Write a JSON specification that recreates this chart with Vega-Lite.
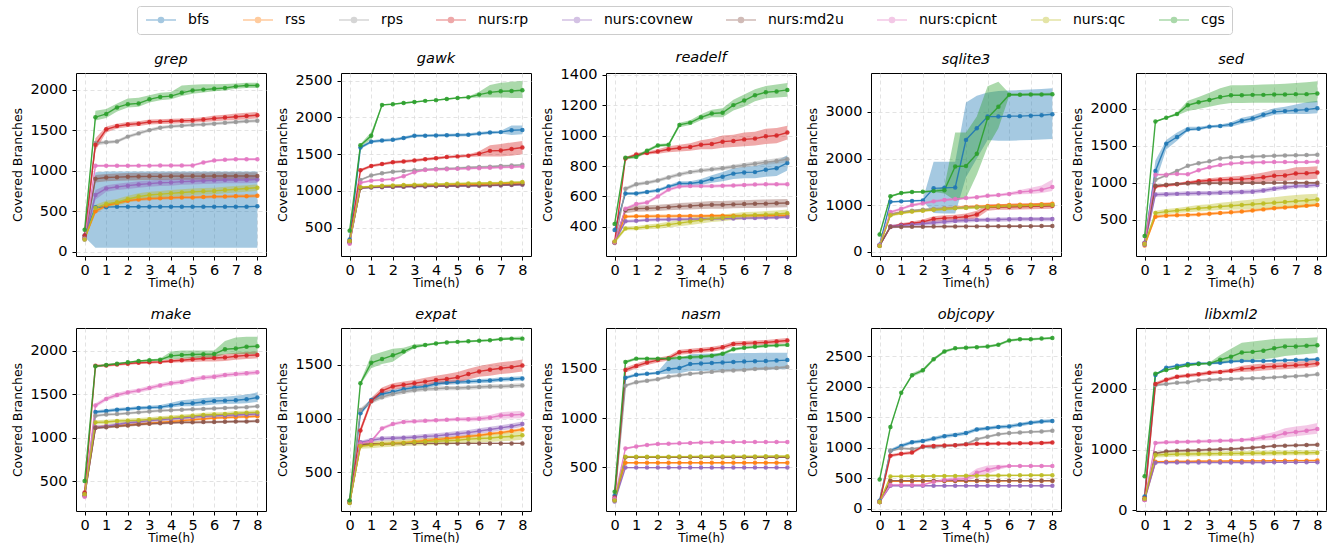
{
"$schema":"https://vega.github.io/schema/vega-lite/v6.json",
"padding":{"left":10,"top":5,"right":5,"bottom":5},
"data":{"values":[
{"p":"grep","s":"bfs","t":[0,0.5,1,1.5,2,2.5,3,3.5,4,4.5,5,5.5,6,6.5,7,7.5,8],"y":[200,550,550,555,555,555,555,555,555,555,555,555,555,555,555,555,560],"lo":[180,50,48,48,48,48,48,48,48,48,48,48,48,48,48,48,48],"hi":[220,980,990,990,990,990,990,990,990,990,990,990,990,990,990,990,990]},
{"p":"grep","s":"rss","t":[0,0.5,1,1.5,2,2.5,3,3.5,4,4.5,5,5.5,6,6.5,7,7.5,8],"y":[160,500,570,600,630,645,655,660,665,670,670,675,680,680,685,685,690],"lo":[145,470,550,580,610,625,635,640,645,650,650,655,660,660,665,665,670],"hi":[175,530,590,620,650,665,675,680,685,690,690,695,700,700,705,705,710]},
{"p":"grep","s":"rps","t":[0,0.5,1,1.5,2,2.5,3,3.5,4,4.5,5,5.5,6,6.5,7,7.5,8],"y":[180,1340,1350,1360,1420,1460,1500,1530,1545,1555,1565,1570,1580,1590,1600,1610,1615],"lo":[165,1310,1330,1340,1400,1440,1480,1510,1525,1535,1545,1550,1560,1570,1580,1590,1595],"hi":[195,1370,1370,1380,1440,1480,1520,1550,1565,1575,1585,1590,1600,1610,1620,1630,1635]},
{"p":"grep","s":"nurs:rp","t":[0,0.5,1,1.5,2,2.5,3,3.5,4,4.5,5,5.5,6,6.5,7,7.5,8],"y":[200,1320,1510,1550,1570,1580,1600,1605,1610,1615,1620,1630,1645,1655,1665,1675,1685],"lo":[185,1250,1470,1520,1540,1550,1570,1575,1580,1585,1590,1600,1610,1620,1625,1635,1645],"hi":[215,1400,1545,1580,1600,1610,1630,1635,1640,1645,1650,1660,1680,1690,1705,1715,1725]},
{"p":"grep","s":"nurs:covnew","t":[0,0.5,1,1.5,2,2.5,3,3.5,4,4.5,5,5.5,6,6.5,7,7.5,8],"y":[150,700,780,800,815,830,840,850,855,865,870,875,880,885,885,885,890],"lo":[135,640,740,760,775,790,800,810,815,825,830,835,840,845,845,845,850],"hi":[165,760,820,840,855,870,880,890,895,905,910,915,920,925,925,925,930]},
{"p":"grep","s":"nurs:md2u","t":[0,0.5,1,1.5,2,2.5,3,3.5,4,4.5,5,5.5,6,6.5,7,7.5,8],"y":[170,900,915,920,925,928,930,930,932,932,933,933,934,934,935,935,935],"lo":[155,855,870,875,880,883,885,885,887,887,888,888,889,889,890,890,890],"hi":[185,945,960,965,970,973,975,975,977,977,978,978,979,979,980,980,980]},
{"p":"grep","s":"nurs:cpicnt","t":[0,0.5,1,1.5,2,2.5,3,3.5,4,4.5,5,5.5,6,6.5,7,7.5,8],"y":[160,1060,1060,1060,1060,1062,1062,1063,1063,1064,1065,1100,1125,1135,1140,1140,1140],"lo":[145,1045,1045,1045,1045,1047,1047,1048,1048,1049,1050,1085,1110,1120,1125,1125,1125],"hi":[175,1075,1075,1075,1075,1077,1077,1078,1078,1079,1080,1115,1140,1150,1155,1155,1155]},
{"p":"grep","s":"nurs:qc","t":[0,0.5,1,1.5,2,2.5,3,3.5,4,4.5,5,5.5,6,6.5,7,7.5,8],"y":[150,540,590,610,650,680,700,710,720,730,740,745,750,760,770,780,790],"lo":[135,500,550,570,610,640,660,670,680,690,700,705,710,720,730,740,750],"hi":[165,580,630,650,690,720,740,750,760,770,780,785,790,800,810,820,830]},
{"p":"grep","s":"cgs","t":[0,0.5,1,1.5,2,2.5,3,3.5,4,4.5,5,5.5,6,6.5,7,7.5,8],"y":[270,1660,1700,1780,1820,1830,1880,1910,1920,1960,1990,2000,2010,2020,2040,2050,2050],"lo":[255,1620,1650,1730,1780,1790,1840,1870,1880,1920,1950,1965,1980,1990,2010,2020,2020],"hi":[285,1740,1760,1830,1890,1900,1930,1960,1970,2050,2060,2065,2065,2070,2075,2085,2085]},
{"p":"gawk","s":"bfs","t":[0,0.5,1,1.5,2,2.5,3,3.5,4,4.5,5,5.5,6,6.5,7,7.5,8],"y":[340,1590,1670,1685,1695,1720,1750,1752,1755,1757,1760,1765,1780,1795,1800,1825,1830],"lo":[320,1570,1650,1665,1675,1700,1730,1732,1735,1737,1740,1745,1760,1775,1780,1760,1770],"hi":[360,1610,1690,1705,1715,1740,1770,1772,1775,1777,1780,1785,1800,1815,1820,1890,1890]},
{"p":"gawk","s":"rss","t":[0,0.5,1,1.5,2,2.5,3,3.5,4,4.5,5,5.5,6,6.5,7,7.5,8],"y":[310,1045,1055,1060,1065,1070,1072,1075,1078,1080,1085,1088,1090,1095,1100,1105,1110],"lo":[295,1033,1043,1048,1053,1058,1060,1063,1066,1068,1073,1076,1078,1083,1088,1093,1098],"hi":[325,1057,1067,1072,1077,1082,1084,1087,1090,1092,1097,1100,1102,1107,1112,1117,1122]},
{"p":"gawk","s":"rps","t":[0,0.5,1,1.5,2,2.5,3,3.5,4,4.5,5,5.5,6,6.5,7,7.5,8],"y":[300,1150,1210,1240,1260,1270,1280,1290,1300,1305,1310,1320,1325,1330,1340,1345,1355],"lo":[285,1135,1195,1225,1245,1255,1265,1275,1285,1290,1295,1305,1310,1315,1325,1330,1340],"hi":[315,1165,1225,1255,1275,1285,1295,1305,1315,1320,1325,1335,1340,1345,1355,1360,1370]},
{"p":"gawk","s":"nurs:rp","t":[0,0.5,1,1.5,2,2.5,3,3.5,4,4.5,5,5.5,6,6.5,7,7.5,8],"y":[320,1280,1340,1365,1390,1400,1415,1430,1445,1460,1470,1480,1505,1545,1550,1570,1590],"lo":[300,1260,1320,1345,1370,1380,1395,1410,1425,1440,1450,1460,1470,1470,1470,1480,1500],"hi":[340,1300,1360,1385,1410,1420,1435,1450,1465,1480,1490,1500,1540,1620,1640,1660,1680]},
{"p":"gawk","s":"nurs:covnew","t":[0,0.5,1,1.5,2,2.5,3,3.5,4,4.5,5,5.5,6,6.5,7,7.5,8],"y":[300,1040,1045,1050,1052,1055,1058,1060,1062,1064,1066,1068,1070,1072,1075,1080,1085],"lo":[290,1030,1035,1040,1042,1045,1048,1050,1052,1054,1056,1058,1060,1062,1065,1070,1075],"hi":[310,1050,1055,1060,1062,1065,1068,1070,1072,1074,1076,1078,1080,1082,1085,1090,1095]},
{"p":"gawk","s":"nurs:md2u","t":[0,0.5,1,1.5,2,2.5,3,3.5,4,4.5,5,5.5,6,6.5,7,7.5,8],"y":[300,1040,1050,1055,1058,1060,1062,1064,1066,1068,1070,1072,1074,1076,1080,1085,1090],"lo":[290,1030,1040,1045,1048,1050,1052,1054,1056,1058,1060,1062,1064,1066,1070,1075,1080],"hi":[310,1050,1060,1065,1068,1070,1072,1074,1076,1078,1080,1082,1084,1086,1090,1095,1100]},
{"p":"gawk","s":"nurs:cpicnt","t":[0,0.5,1,1.5,2,2.5,3,3.5,4,4.5,5,5.5,6,6.5,7,7.5,8],"y":[280,1110,1140,1150,1160,1200,1255,1285,1290,1295,1300,1305,1310,1315,1320,1325,1330],"lo":[245,1095,1125,1135,1145,1185,1240,1270,1275,1280,1285,1290,1295,1300,1305,1310,1315],"hi":[315,1125,1155,1165,1175,1215,1270,1300,1305,1310,1315,1320,1325,1330,1335,1340,1345]},
{"p":"gawk","s":"nurs:qc","t":[0,0.5,1,1.5,2,2.5,3,3.5,4,4.5,5,5.5,6,6.5,7,7.5,8],"y":[320,1050,1060,1070,1075,1080,1085,1088,1090,1095,1100,1102,1105,1108,1110,1115,1120],"lo":[305,1035,1045,1055,1060,1065,1070,1073,1075,1080,1085,1087,1090,1093,1095,1100,1105],"hi":[335,1065,1075,1085,1090,1095,1100,1103,1105,1110,1115,1117,1120,1123,1125,1130,1135]},
{"p":"gawk","s":"cgs","t":[0,0.5,1,1.5,2,2.5,3,3.5,4,4.5,5,5.5,6,6.5,7,7.5,8],"y":[460,1620,1750,2170,2180,2195,2210,2225,2235,2250,2265,2275,2310,2340,2355,2360,2370],"lo":[440,1600,1700,2160,2170,2185,2200,2215,2225,2240,2255,2265,2270,2270,2270,2265,2265],"hi":[480,1640,1800,2180,2190,2205,2220,2235,2245,2260,2275,2285,2350,2440,2470,2485,2495]},
{"p":"readelf","s":"bfs","t":[0,0.5,1,1.5,2,2.5,3,3.5,4,4.5,5,5.5,6,6.5,7,7.5,8],"y":[380,620,620,630,640,665,685,685,695,715,730,750,758,760,775,785,820],"lo":[370,610,610,620,630,655,670,670,675,690,700,715,720,720,730,735,770],"hi":[390,630,630,640,650,675,700,700,715,740,760,785,795,800,820,835,870]},
{"p":"readelf","s":"rss","t":[0,0.5,1,1.5,2,2.5,3,3.5,4,4.5,5,5.5,6,6.5,7,7.5,8],"y":[300,468,470,470,471,471,472,472,472,473,473,473,474,474,474,475,475],"lo":[290,458,460,460,461,461,462,462,462,463,463,463,464,464,464,465,465],"hi":[310,478,480,480,481,481,482,482,482,483,483,483,484,484,484,485,485]},
{"p":"readelf","s":"rps","t":[0,0.5,1,1.5,2,2.5,3,3.5,4,4.5,5,5.5,6,6.5,7,7.5,8],"y":[295,650,680,690,705,725,745,760,770,778,785,795,805,815,825,833,845],"lo":[280,638,668,678,693,713,733,748,758,765,772,782,790,800,808,815,825],"hi":[310,662,692,702,717,737,757,772,782,791,798,808,820,830,842,851,865]},
{"p":"readelf","s":"nurs:rp","t":[0,0.5,1,1.5,2,2.5,3,3.5,4,4.5,5,5.5,6,6.5,7,7.5,8],"y":[300,850,875,885,895,910,918,925,940,945,960,965,975,980,995,1000,1020],"lo":[290,840,865,875,880,890,895,900,910,910,920,925,930,935,945,950,975],"hi":[310,860,885,895,910,930,940,950,970,980,1000,1005,1020,1025,1045,1050,1065]},
{"p":"readelf","s":"nurs:covnew","t":[0,0.5,1,1.5,2,2.5,3,3.5,4,4.5,5,5.5,6,6.5,7,7.5,8],"y":[300,437,440,445,448,449,450,451,452,453,455,456,458,459,460,462,465],"lo":[290,427,430,435,438,439,440,441,442,443,445,446,448,449,450,452,455],"hi":[310,447,450,455,458,459,460,461,462,463,465,466,468,469,470,472,475]},
{"p":"readelf","s":"nurs:md2u","t":[0,0.5,1,1.5,2,2.5,3,3.5,4,4.5,5,5.5,6,6.5,7,7.5,8],"y":[300,510,520,522,525,530,535,538,542,545,545,548,550,552,553,555,557],"lo":[290,490,500,502,505,510,513,515,518,520,520,522,524,525,526,528,530],"hi":[310,530,540,542,545,550,557,561,566,570,570,574,576,579,580,582,584]},
{"p":"readelf","s":"nurs:cpicnt","t":[0,0.5,1,1.5,2,2.5,3,3.5,4,4.5,5,5.5,6,6.5,7,7.5,8],"y":[300,520,550,560,600,645,665,668,668,668,670,672,675,678,680,680,680],"lo":[290,510,540,550,588,635,655,658,658,658,660,662,665,668,670,670,670],"hi":[310,530,560,570,612,655,675,678,678,678,680,682,685,688,690,690,690]},
{"p":"readelf","s":"nurs:qc","t":[0,0.5,1,1.5,2,2.5,3,3.5,4,4.5,5,5.5,6,6.5,7,7.5,8],"y":[305,390,392,400,405,415,425,435,445,455,460,468,475,478,482,485,490],"lo":[290,378,378,384,388,396,404,412,422,432,438,446,452,456,460,462,466],"hi":[320,402,406,416,422,434,446,458,468,478,482,490,498,500,504,508,514]},
{"p":"readelf","s":"cgs","t":[0,0.5,1,1.5,2,2.5,3,3.5,4,4.5,5,5.5,6,6.5,7,7.5,8],"y":[420,855,860,900,935,940,1070,1085,1120,1145,1150,1200,1230,1265,1285,1290,1300],"lo":[410,845,850,890,925,930,1055,1070,1100,1120,1120,1165,1190,1225,1245,1250,1255],"hi":[430,865,870,910,945,950,1085,1100,1140,1170,1180,1235,1270,1305,1325,1335,1345]},
{"p":"sqlite3","s":"bfs","t":[0,0.5,1,1.5,2,2.5,3,3.5,4,4.5,5,5.5,6,6.5,7,7.5,8],"y":[150,1070,1080,1090,1100,1360,1370,1380,2400,2650,2900,2900,2910,2910,2920,2930,2950],"lo":[130,1050,1060,1070,1080,830,820,820,1600,2000,2400,2380,2380,2390,2400,2410,2420],"hi":[170,1090,1100,1110,1120,1930,1930,1930,3200,3350,3420,3450,3460,3470,3480,3490,3510]},
{"p":"sqlite3","s":"rss","t":[0,0.5,1,1.5,2,2.5,3,3.5,4,4.5,5,5.5,6,6.5,7,7.5,8],"y":[130,800,840,870,890,910,930,945,960,970,980,990,1000,1005,1010,1020,1030],"lo":[110,770,810,840,860,880,900,915,930,940,950,960,970,975,980,990,1000],"hi":[150,830,870,900,920,940,960,975,990,1000,1010,1020,1030,1035,1040,1050,1060]},
{"p":"sqlite3","s":"rps","t":[0,0.5,1,1.5,2,2.5,3,3.5,4,4.5,5,5.5,6,6.5,7,7.5,8],"y":[140,800,850,880,900,915,930,940,950,955,960,965,970,975,980,985,990],"lo":[120,775,825,855,875,890,905,915,925,930,935,940,945,950,955,960,965],"hi":[160,825,875,905,925,940,955,965,975,980,985,990,995,1000,1005,1010,1015]},
{"p":"sqlite3","s":"nurs:rp","t":[0,0.5,1,1.5,2,2.5,3,3.5,4,4.5,5,5.5,6,6.5,7,7.5,8],"y":[130,540,580,610,640,700,720,730,750,800,950,960,965,970,975,980,985],"lo":[120,520,550,570,590,640,660,670,680,720,880,900,900,905,910,915,920],"hi":[140,560,610,650,690,760,780,790,820,880,1020,1020,1030,1035,1040,1045,1050]},
{"p":"sqlite3","s":"nurs:covnew","t":[0,0.5,1,1.5,2,2.5,3,3.5,4,4.5,5,5.5,6,6.5,7,7.5,8],"y":[130,540,560,580,600,620,640,660,670,680,685,690,695,700,700,700,700],"lo":[115,500,515,535,555,575,595,615,625,635,640,645,650,655,655,655,655],"hi":[145,580,605,625,645,665,685,705,715,725,730,735,740,745,745,745,745]},
{"p":"sqlite3","s":"nurs:md2u","t":[0,0.5,1,1.5,2,2.5,3,3.5,4,4.5,5,5.5,6,6.5,7,7.5,8],"y":[130,530,532,534,536,538,540,540,542,543,544,545,546,547,548,549,550],"lo":[115,510,512,514,516,518,520,520,522,523,524,525,526,527,528,529,530],"hi":[145,550,552,554,556,558,560,560,562,563,564,565,566,567,568,569,570]},
{"p":"sqlite3","s":"nurs:cpicnt","t":[0,0.5,1,1.5,2,2.5,3,3.5,4,4.5,5,5.5,6,6.5,7,7.5,8],"y":[140,850,920,1000,1040,1080,1110,1130,1150,1170,1200,1215,1240,1280,1300,1330,1390],"lo":[120,820,890,970,1010,1050,1080,1100,1120,1140,1170,1185,1205,1235,1240,1260,1300],"hi":[160,880,950,1030,1070,1110,1140,1160,1180,1200,1230,1245,1275,1325,1370,1420,1550]},
{"p":"sqlite3","s":"nurs:qc","t":[0,0.5,1,1.5,2,2.5,3,3.5,4,4.5,5,5.5,6,6.5,7,7.5,8],"y":[120,780,830,860,880,900,915,930,940,950,960,970,980,985,990,995,1000],"lo":[100,750,800,830,850,870,885,900,910,920,930,940,950,955,960,965,970],"hi":[140,810,860,890,910,930,945,960,970,980,990,1000,1010,1015,1020,1025,1030]},
{"p":"sqlite3","s":"cgs","t":[0,0.5,1,1.5,2,2.5,3,3.5,4,4.5,5,5.5,6,6.5,7,7.5,8],"y":[370,1190,1260,1280,1285,1300,1320,1830,1840,2100,2870,3110,3370,3370,3375,3375,3380],"lo":[350,1170,1240,1260,1265,1280,1250,1100,1150,1650,2250,2650,3340,3340,3345,3345,3350],"hi":[390,1210,1280,1300,1305,1320,1400,2560,2560,2900,3550,3650,3400,3400,3405,3405,3410]},
{"p":"sed","s":"bfs","t":[0,0.5,1,1.5,2,2.5,3,3.5,4,4.5,5,5.5,6,6.5,7,7.5,8],"y":[190,1160,1530,1620,1720,1730,1760,1770,1790,1840,1870,1920,1960,1970,1980,1990,2010],"lo":[180,1000,1450,1570,1700,1710,1740,1750,1760,1800,1830,1880,1920,1930,1930,1930,1940],"hi":[200,1300,1580,1680,1760,1760,1780,1790,1820,1880,1910,1960,2010,2030,2060,2090,2110]},
{"p":"sed","s":"rss","t":[0,0.5,1,1.5,2,2.5,3,3.5,4,4.5,5,5.5,6,6.5,7,7.5,8],"y":[150,540,555,560,565,570,580,590,600,610,625,640,655,665,675,690,700],"lo":[125,520,535,540,545,550,560,570,580,590,605,620,635,645,655,670,680],"hi":[175,560,575,580,585,590,600,610,620,630,645,660,675,685,695,710,720]},
{"p":"sed","s":"rps","t":[0,0.5,1,1.5,2,2.5,3,3.5,4,4.5,5,5.5,6,6.5,7,7.5,8],"y":[180,1040,1100,1160,1230,1265,1290,1330,1345,1350,1355,1360,1365,1370,1372,1375,1380],"lo":[165,1025,1085,1145,1215,1250,1275,1315,1330,1335,1340,1345,1350,1355,1357,1360,1365],"hi":[195,1055,1115,1175,1245,1280,1305,1345,1360,1365,1370,1375,1380,1385,1387,1390,1395]},
{"p":"sed","s":"nurs:rp","t":[0,0.5,1,1.5,2,2.5,3,3.5,4,4.5,5,5.5,6,6.5,7,7.5,8],"y":[180,950,965,980,1000,1020,1030,1040,1045,1050,1060,1075,1095,1100,1125,1130,1140],"lo":[170,930,945,960,980,995,1000,1005,1005,1005,1005,1010,1020,1025,1040,1045,1055],"hi":[190,970,985,1000,1020,1045,1060,1075,1085,1095,1115,1140,1170,1175,1210,1215,1225]},
{"p":"sed","s":"nurs:covnew","t":[0,0.5,1,1.5,2,2.5,3,3.5,4,4.5,5,5.5,6,6.5,7,7.5,8],"y":[160,840,845,850,855,858,860,865,870,875,880,895,920,940,955,960,970],"lo":[145,810,815,820,825,828,830,835,840,845,850,865,890,910,925,930,940],"hi":[175,870,875,880,885,888,890,895,900,905,910,925,950,970,985,990,1000]},
{"p":"sed","s":"nurs:md2u","t":[0,0.5,1,1.5,2,2.5,3,3.5,4,4.5,5,5.5,6,6.5,7,7.5,8],"y":[180,960,975,985,990,992,994,995,996,997,998,998,999,999,1000,1000,1000],"lo":[165,945,960,970,975,977,979,980,981,982,983,983,984,984,985,985,985],"hi":[195,975,990,1000,1005,1007,1009,1010,1011,1012,1013,1013,1014,1014,1015,1015,1015]},
{"p":"sed","s":"nurs:cpicnt","t":[0,0.5,1,1.5,2,2.5,3,3.5,4,4.5,5,5.5,6,6.5,7,7.5,8],"y":[180,1110,1110,1120,1115,1170,1210,1240,1260,1270,1275,1278,1280,1280,1280,1280,1285],"lo":[165,1095,1095,1105,1100,1155,1195,1225,1245,1255,1260,1263,1265,1265,1265,1265,1270],"hi":[195,1125,1125,1135,1130,1185,1225,1255,1275,1285,1290,1293,1295,1295,1295,1295,1300]},
{"p":"sed","s":"nurs:qc","t":[0,0.5,1,1.5,2,2.5,3,3.5,4,4.5,5,5.5,6,6.5,7,7.5,8],"y":[170,590,610,625,640,655,665,680,690,700,710,720,730,740,750,760,775],"lo":[155,560,575,590,600,610,620,630,635,640,645,650,655,660,665,670,700],"hi":[185,620,645,660,680,700,710,730,745,760,775,790,805,820,835,845,850]},
{"p":"sed","s":"cgs","t":[0,0.5,1,1.5,2,2.5,3,3.5,4,4.5,5,5.5,6,6.5,7,7.5,8],"y":[280,1830,1880,1930,2050,2090,2120,2160,2185,2185,2190,2190,2195,2195,2200,2200,2210],"lo":[265,1820,1870,1910,1970,2000,2030,2060,2080,2080,2085,2085,2085,2085,2085,2085,2090],"hi":[295,1840,1890,1950,2110,2160,2220,2280,2320,2320,2325,2330,2335,2340,2350,2360,2375]},
{"p":"make","s":"bfs","t":[0,0.5,1,1.5,2,2.5,3,3.5,4,4.5,5,5.5,6,6.5,7,7.5,8],"y":[360,1295,1305,1320,1330,1340,1345,1350,1370,1390,1395,1410,1420,1425,1430,1440,1460],"lo":[340,1275,1285,1300,1310,1320,1325,1330,1345,1360,1360,1370,1380,1385,1390,1395,1410],"hi":[380,1315,1325,1340,1350,1360,1365,1375,1400,1430,1440,1455,1465,1470,1480,1495,1520]},
{"p":"make","s":"rss","t":[0,0.5,1,1.5,2,2.5,3,3.5,4,4.5,5,5.5,6,6.5,7,7.5,8],"y":[340,1120,1130,1135,1145,1155,1165,1175,1185,1195,1205,1215,1225,1230,1235,1240,1245],"lo":[325,1105,1115,1120,1130,1140,1150,1160,1170,1180,1190,1200,1210,1215,1220,1225,1230],"hi":[355,1135,1145,1150,1160,1170,1180,1190,1200,1210,1220,1230,1240,1245,1250,1255,1260]},
{"p":"make","s":"rps","t":[0,0.5,1,1.5,2,2.5,3,3.5,4,4.5,5,5.5,6,6.5,7,7.5,8],"y":[330,1250,1265,1270,1280,1290,1300,1310,1315,1320,1325,1330,1335,1340,1345,1350,1360],"lo":[315,1235,1250,1255,1265,1275,1285,1295,1300,1305,1310,1315,1320,1325,1330,1335,1345],"hi":[345,1265,1280,1285,1295,1305,1315,1325,1330,1335,1340,1345,1350,1355,1360,1365,1375]},
{"p":"make","s":"nurs:rp","t":[0,0.5,1,1.5,2,2.5,3,3.5,4,4.5,5,5.5,6,6.5,7,7.5,8],"y":[370,1825,1830,1840,1850,1860,1865,1870,1880,1890,1900,1910,1915,1920,1935,1945,1950],"lo":[355,1810,1815,1825,1835,1845,1850,1855,1860,1865,1870,1875,1875,1880,1895,1905,1910],"hi":[385,1840,1845,1855,1865,1875,1880,1885,1900,1915,1930,1945,1955,1960,1975,1985,1990]},
{"p":"make","s":"nurs:covnew","t":[0,0.5,1,1.5,2,2.5,3,3.5,4,4.5,5,5.5,6,6.5,7,7.5,8],"y":[330,1120,1130,1150,1170,1180,1195,1205,1215,1225,1235,1245,1250,1255,1260,1265,1270],"lo":[310,1100,1110,1130,1150,1160,1175,1185,1195,1205,1215,1225,1230,1235,1240,1245,1250],"hi":[350,1140,1150,1170,1190,1200,1215,1225,1235,1245,1255,1265,1270,1275,1280,1285,1290]},
{"p":"make","s":"nurs:md2u","t":[0,0.5,1,1.5,2,2.5,3,3.5,4,4.5,5,5.5,6,6.5,7,7.5,8],"y":[330,1110,1120,1130,1140,1150,1160,1165,1170,1175,1175,1178,1180,1182,1185,1185,1190],"lo":[315,1095,1105,1115,1125,1135,1145,1150,1155,1160,1160,1163,1165,1167,1170,1170,1175],"hi":[345,1125,1135,1145,1155,1165,1175,1180,1185,1190,1190,1193,1195,1197,1200,1200,1205]},
{"p":"make","s":"nurs:cpicnt","t":[0,0.5,1,1.5,2,2.5,3,3.5,4,4.5,5,5.5,6,6.5,7,7.5,8],"y":[320,1370,1445,1490,1520,1540,1570,1600,1625,1640,1670,1690,1700,1720,1730,1740,1750],"lo":[280,1345,1420,1465,1495,1515,1545,1575,1600,1615,1645,1665,1675,1695,1705,1715,1725],"hi":[360,1395,1470,1515,1545,1565,1595,1625,1650,1665,1695,1715,1725,1745,1755,1765,1775]},
{"p":"make","s":"nurs:qc","t":[0,0.5,1,1.5,2,2.5,3,3.5,4,4.5,5,5.5,6,6.5,7,7.5,8],"y":[350,1175,1180,1190,1195,1200,1210,1220,1230,1240,1250,1260,1265,1270,1280,1285,1290],"lo":[335,1150,1155,1165,1170,1175,1185,1195,1205,1215,1225,1235,1240,1245,1255,1260,1265],"hi":[365,1200,1205,1215,1220,1225,1235,1245,1255,1265,1275,1285,1290,1295,1305,1310,1315]},
{"p":"make","s":"cgs","t":[0,0.5,1,1.5,2,2.5,3,3.5,4,4.5,5,5.5,6,6.5,7,7.5,8],"y":[500,1820,1835,1850,1865,1880,1890,1895,1940,1950,1955,1958,1960,2015,2025,2045,2050],"lo":[490,1810,1825,1840,1855,1870,1880,1885,1900,1910,1915,1918,1920,1960,1960,1960,1960],"hi":[510,1830,1845,1860,1875,1890,1900,1910,1990,2000,2000,2000,2000,2110,2150,2160,2160]},
{"p":"expat","s":"bfs","t":[0,0.5,1,1.5,2,2.5,3,3.5,4,4.5,5,5.5,6,6.5,7,7.5,8],"y":[230,1050,1175,1230,1250,1275,1290,1300,1325,1335,1340,1345,1350,1355,1365,1370,1375],"lo":[220,1030,1155,1210,1230,1255,1270,1280,1305,1315,1320,1325,1330,1335,1345,1350,1355],"hi":[240,1070,1195,1250,1270,1295,1310,1320,1345,1355,1360,1365,1370,1375,1385,1390,1395]},
{"p":"expat","s":"rss","t":[0,0.5,1,1.5,2,2.5,3,3.5,4,4.5,5,5.5,6,6.5,7,7.5,8],"y":[220,750,760,765,770,775,785,795,805,815,825,835,845,860,870,885,900],"lo":[210,735,745,750,755,760,770,780,790,800,810,820,830,845,855,870,885],"hi":[230,765,775,780,785,790,800,810,820,830,840,850,860,875,885,900,915]},
{"p":"expat","s":"rps","t":[0,0.5,1,1.5,2,2.5,3,3.5,4,4.5,5,5.5,6,6.5,7,7.5,8],"y":[230,1080,1160,1200,1230,1250,1265,1275,1280,1285,1285,1290,1295,1300,1300,1305,1310],"lo":[220,1060,1140,1180,1210,1230,1245,1255,1260,1265,1265,1270,1275,1280,1280,1285,1290],"hi":[240,1100,1180,1220,1250,1270,1285,1295,1300,1305,1305,1310,1315,1320,1320,1325,1330]},
{"p":"expat","s":"nurs:rp","t":[0,0.5,1,1.5,2,2.5,3,3.5,4,4.5,5,5.5,6,6.5,7,7.5,8],"y":[230,890,1165,1260,1300,1315,1330,1345,1360,1370,1385,1415,1440,1455,1470,1480,1495],"lo":[220,860,1135,1230,1270,1285,1300,1310,1320,1325,1335,1365,1390,1400,1415,1425,1440],"hi":[240,920,1195,1290,1330,1345,1360,1380,1400,1415,1435,1465,1490,1510,1525,1535,1550]},
{"p":"expat","s":"nurs:covnew","t":[0,0.5,1,1.5,2,2.5,3,3.5,4,4.5,5,5.5,6,6.5,7,7.5,8],"y":[220,780,800,815,818,822,828,835,840,850,860,870,885,900,915,930,950],"lo":[210,765,780,795,798,802,808,812,815,825,835,845,860,875,890,905,925],"hi":[230,795,820,835,838,842,848,858,865,875,885,895,910,925,940,955,975]},
{"p":"expat","s":"nurs:md2u","t":[0,0.5,1,1.5,2,2.5,3,3.5,4,4.5,5,5.5,6,6.5,7,7.5,8],"y":[220,760,765,765,768,768,770,770,770,770,770,770,770,770,770,770,770],"lo":[212,754,759,759,762,762,764,764,764,764,764,764,764,764,764,764,764],"hi":[228,766,771,771,774,774,776,776,776,776,776,776,776,776,776,776,776]},
{"p":"expat","s":"nurs:cpicnt","t":[0,0.5,1,1.5,2,2.5,3,3.5,4,4.5,5,5.5,6,6.5,7,7.5,8],"y":[225,770,790,910,950,970,975,980,985,990,995,995,1000,1010,1030,1035,1040],"lo":[215,755,775,895,935,955,960,965,970,975,978,975,978,985,1000,1002,1005],"hi":[235,785,805,925,965,985,990,995,1000,1005,1012,1015,1022,1035,1060,1068,1075]},
{"p":"expat","s":"nurs:qc","t":[0,0.5,1,1.5,2,2.5,3,3.5,4,4.5,5,5.5,6,6.5,7,7.5,8],"y":[215,745,755,765,770,775,780,785,790,795,800,810,815,820,830,835,845],"lo":[205,720,725,735,740,745,750,752,755,760,765,772,778,782,790,795,805],"hi":[225,770,785,795,800,805,810,818,825,830,835,848,852,858,870,875,885]},
{"p":"expat","s":"cgs","t":[0,0.5,1,1.5,2,2.5,3,3.5,4,4.5,5,5.5,6,6.5,7,7.5,8],"y":[240,1330,1520,1555,1590,1625,1670,1685,1700,1710,1715,1720,1725,1730,1740,1745,1745],"lo":[230,1315,1470,1510,1530,1600,1655,1675,1690,1700,1705,1710,1715,1720,1730,1735,1730],"hi":[250,1345,1590,1620,1650,1660,1690,1700,1710,1720,1725,1730,1735,1740,1755,1760,1765]},
{"p":"nasm","s":"bfs","t":[0,0.5,1,1.5,2,2.5,3,3.5,4,4.5,5,5.5,6,6.5,7,7.5,8],"y":[210,1410,1440,1450,1460,1500,1510,1550,1555,1560,1565,1570,1575,1578,1580,1585,1590],"lo":[200,1395,1425,1435,1445,1450,1455,1480,1480,1482,1485,1488,1490,1492,1495,1497,1500],"hi":[220,1425,1455,1465,1475,1600,1605,1650,1655,1658,1660,1660,1662,1662,1664,1665,1665]},
{"p":"nasm","s":"rss","t":[0,0.5,1,1.5,2,2.5,3,3.5,4,4.5,5,5.5,6,6.5,7,7.5,8],"y":[160,545,545,545,545,545,545,545,545,545,545,545,545,545,545,545,545],"lo":[150,538,538,538,538,538,538,538,538,538,538,538,538,538,538,538,538],"hi":[170,552,552,552,552,552,552,552,552,552,552,552,552,552,552,552,552]},
{"p":"nasm","s":"rps","t":[0,0.5,1,1.5,2,2.5,3,3.5,4,4.5,5,5.5,6,6.5,7,7.5,8],"y":[170,1330,1365,1380,1395,1420,1435,1450,1460,1470,1480,1485,1490,1500,1505,1510,1520],"lo":[160,1315,1350,1365,1380,1405,1420,1435,1445,1455,1465,1470,1475,1485,1490,1495,1505],"hi":[180,1345,1380,1395,1410,1435,1450,1465,1475,1485,1495,1500,1505,1515,1520,1525,1535]},
{"p":"nasm","s":"nurs:rp","t":[0,0.5,1,1.5,2,2.5,3,3.5,4,4.5,5,5.5,6,6.5,7,7.5,8],"y":[190,1490,1530,1565,1590,1610,1670,1680,1690,1700,1720,1755,1760,1765,1770,1780,1790],"lo":[180,1465,1505,1540,1565,1585,1645,1655,1665,1675,1695,1730,1735,1740,1745,1755,1765],"hi":[200,1515,1555,1590,1615,1635,1695,1705,1715,1725,1745,1780,1785,1790,1795,1805,1815]},
{"p":"nasm","s":"nurs:covnew","t":[0,0.5,1,1.5,2,2.5,3,3.5,4,4.5,5,5.5,6,6.5,7,7.5,8],"y":[150,495,495,495,495,495,495,495,495,495,495,495,495,495,495,495,495],"lo":[140,488,488,488,488,488,488,488,488,488,488,488,488,488,488,488,488],"hi":[160,502,502,502,502,502,502,502,502,502,502,502,502,502,502,502,502]},
{"p":"nasm","s":"nurs:md2u","t":[0,0.5,1,1.5,2,2.5,3,3.5,4,4.5,5,5.5,6,6.5,7,7.5,8],"y":[170,600,600,600,600,600,600,600,600,600,600,600,600,600,600,600,600],"lo":[160,594,594,594,594,594,594,594,594,594,594,594,594,594,594,594,594],"hi":[180,606,606,606,606,606,606,606,606,606,606,606,606,606,606,606,606]},
{"p":"nasm","s":"nurs:cpicnt","t":[0,0.5,1,1.5,2,2.5,3,3.5,4,4.5,5,5.5,6,6.5,7,7.5,8],"y":[180,690,710,725,735,738,742,745,750,752,755,755,755,755,755,755,755],"lo":[170,680,700,715,725,728,732,735,740,742,745,745,745,745,745,745,745],"hi":[190,700,720,735,745,748,752,755,760,762,765,765,765,765,765,765,765]},
{"p":"nasm","s":"nurs:qc","t":[0,0.5,1,1.5,2,2.5,3,3.5,4,4.5,5,5.5,6,6.5,7,7.5,8],"y":[160,605,605,605,606,606,607,607,608,608,608,609,609,609,610,610,610],"lo":[150,595,595,595,596,596,597,597,598,598,598,599,599,599,600,600,600],"hi":[170,615,615,615,616,616,617,617,618,618,618,619,619,619,620,620,620]},
{"p":"nasm","s":"cgs","t":[0,0.5,1,1.5,2,2.5,3,3.5,4,4.5,5,5.5,6,6.5,7,7.5,8],"y":[250,1570,1605,1605,1605,1605,1615,1620,1625,1635,1655,1700,1715,1725,1735,1740,1745],"lo":[240,1555,1590,1590,1590,1590,1600,1605,1610,1620,1640,1685,1700,1710,1720,1725,1730],"hi":[260,1585,1620,1620,1620,1620,1630,1635,1640,1650,1670,1715,1730,1740,1750,1755,1760]},
{"p":"objcopy","s":"bfs","t":[0,0.5,1,1.5,2,2.5,3,3.5,4,4.5,5,5.5,6,6.5,7,7.5,8],"y":[130,950,1030,1090,1110,1150,1190,1210,1240,1300,1320,1340,1350,1380,1410,1430,1440],"lo":[115,920,1000,1060,1080,1120,1160,1180,1210,1270,1290,1310,1320,1350,1380,1400,1410],"hi":[145,980,1060,1120,1140,1180,1220,1240,1270,1330,1350,1370,1380,1410,1440,1460,1470]},
{"p":"objcopy","s":"rss","t":[0,0.5,1,1.5,2,2.5,3,3.5,4,4.5,5,5.5,6,6.5,7,7.5,8],"y":[110,450,450,450,452,452,453,453,454,454,455,455,456,456,457,457,458],"lo":[100,445,445,445,447,447,448,448,449,449,450,450,451,451,452,452,453],"hi":[120,455,455,455,457,457,458,458,459,459,460,460,461,461,462,462,463]},
{"p":"objcopy","s":"rps","t":[0,0.5,1,1.5,2,2.5,3,3.5,4,4.5,5,5.5,6,6.5,7,7.5,8],"y":[120,950,990,980,1010,1010,1030,1040,1060,1140,1180,1220,1240,1250,1260,1265,1280],"lo":[105,930,970,960,990,990,1010,1020,1040,1120,1160,1200,1220,1230,1240,1245,1260],"hi":[135,970,1010,1000,1030,1030,1050,1060,1080,1160,1200,1240,1260,1270,1280,1285,1300]},
{"p":"objcopy","s":"nurs:rp","t":[0,0.5,1,1.5,2,2.5,3,3.5,4,4.5,5,5.5,6,6.5,7,7.5,8],"y":[110,870,900,920,1020,1030,1035,1040,1055,1065,1065,1068,1070,1072,1075,1078,1085],"lo":[100,845,875,895,995,1005,1010,1015,1030,1040,1040,1043,1045,1047,1050,1053,1060],"hi":[120,895,925,945,1045,1055,1060,1065,1080,1090,1090,1093,1095,1097,1100,1103,1110]},
{"p":"objcopy","s":"nurs:covnew","t":[0,0.5,1,1.5,2,2.5,3,3.5,4,4.5,5,5.5,6,6.5,7,7.5,8],"y":[110,375,375,375,375,375,375,375,375,375,375,375,375,375,375,375,375],"lo":[100,370,370,370,370,370,370,370,370,370,370,370,370,370,370,370,370],"hi":[120,380,380,380,380,380,380,380,380,380,380,380,380,380,380,380,380]},
{"p":"objcopy","s":"nurs:md2u","t":[0,0.5,1,1.5,2,2.5,3,3.5,4,4.5,5,5.5,6,6.5,7,7.5,8],"y":[110,460,460,460,460,460,460,460,460,460,460,460,460,460,460,460,460],"lo":[100,455,455,455,455,455,455,455,455,455,455,455,455,455,455,455,455],"hi":[120,465,465,465,465,465,465,465,465,465,465,465,465,465,465,465,465]},
{"p":"objcopy","s":"nurs:cpicnt","t":[0,0.5,1,1.5,2,2.5,3,3.5,4,4.5,5,5.5,6,6.5,7,7.5,8],"y":[110,390,390,390,390,440,470,480,490,590,640,680,700,700,700,700,700],"lo":[100,380,380,380,380,420,440,440,440,520,570,640,685,688,688,688,688],"hi":[120,400,400,400,400,460,500,520,540,660,710,720,715,712,712,712,712]},
{"p":"objcopy","s":"nurs:qc","t":[0,0.5,1,1.5,2,2.5,3,3.5,4,4.5,5,5.5,6,6.5,7,7.5,8],"y":[110,530,530,532,533,535,537,538,540,542,544,545,546,547,548,549,550],"lo":[100,515,515,517,518,520,522,523,525,527,529,530,531,532,533,534,535],"hi":[120,545,545,547,548,550,552,553,555,557,559,560,561,562,563,564,565]},
{"p":"objcopy","s":"cgs","t":[0,0.5,1,1.5,2,2.5,3,3.5,4,4.5,5,5.5,6,6.5,7,7.5,8],"y":[480,1340,1900,2190,2270,2450,2580,2630,2640,2650,2660,2690,2760,2780,2780,2790,2800],"lo":[460,1320,1880,2160,2240,2425,2555,2610,2620,2630,2640,2670,2740,2760,2760,2770,2780],"hi":[500,1360,1920,2220,2300,2475,2605,2650,2660,2670,2680,2710,2780,2800,2800,2810,2820]},
{"p":"libxml2","s":"bfs","t":[0,0.5,1,1.5,2,2.5,3,3.5,4,4.5,5,5.5,6,6.5,7,7.5,8],"y":[230,2230,2350,2380,2410,2420,2420,2430,2450,2460,2460,2460,2465,2470,2475,2480,2490],"lo":[210,2210,2330,2360,2390,2400,2400,2410,2430,2440,2440,2440,2445,2450,2455,2460,2470],"hi":[250,2250,2370,2400,2430,2440,2440,2450,2470,2480,2480,2480,2485,2490,2495,2500,2510]},
{"p":"libxml2","s":"rss","t":[0,0.5,1,1.5,2,2.5,3,3.5,4,4.5,5,5.5,6,6.5,7,7.5,8],"y":[180,800,802,804,806,808,810,810,812,812,814,814,816,816,818,818,820],"lo":[165,785,787,789,791,793,795,795,797,797,799,799,801,801,803,803,805],"hi":[195,815,817,819,821,823,825,825,827,827,829,829,831,831,833,833,835]},
{"p":"libxml2","s":"rps","t":[0,0.5,1,1.5,2,2.5,3,3.5,4,4.5,5,5.5,6,6.5,7,7.5,8],"y":[190,2060,2080,2100,2110,2140,2150,2160,2165,2170,2175,2180,2190,2200,2210,2220,2240],"lo":[170,2040,2060,2080,2090,2120,2130,2140,2145,2150,2155,2160,2170,2180,2190,2200,2220],"hi":[210,2080,2100,2120,2130,2160,2170,2180,2185,2190,2195,2200,2210,2220,2230,2240,2260]},
{"p":"libxml2","s":"nurs:rp","t":[0,0.5,1,1.5,2,2.5,3,3.5,4,4.5,5,5.5,6,6.5,7,7.5,8],"y":[200,2080,2150,2200,2220,2240,2265,2280,2300,2330,2340,2360,2370,2380,2390,2400,2420],"lo":[180,2050,2120,2170,2190,2210,2235,2250,2270,2280,2285,2305,2315,2325,2335,2345,2365],"hi":[220,2110,2180,2230,2250,2270,2295,2310,2330,2380,2400,2420,2430,2440,2450,2460,2480]},
{"p":"libxml2","s":"nurs:covnew","t":[0,0.5,1,1.5,2,2.5,3,3.5,4,4.5,5,5.5,6,6.5,7,7.5,8],"y":[170,785,786,787,787,788,788,788,789,789,789,789,790,790,790,790,790],"lo":[155,775,776,777,777,778,778,778,779,779,779,779,780,780,780,780,780],"hi":[185,795,796,797,797,798,798,798,799,799,799,799,800,800,800,800,800]},
{"p":"libxml2","s":"nurs:md2u","t":[0,0.5,1,1.5,2,2.5,3,3.5,4,4.5,5,5.5,6,6.5,7,7.5,8],"y":[180,940,970,980,985,990,1000,1005,1010,1020,1030,1045,1060,1065,1070,1075,1080],"lo":[165,920,950,960,965,970,980,985,990,1000,1010,1025,1040,1045,1050,1055,1060],"hi":[195,960,990,1000,1005,1010,1020,1025,1030,1040,1050,1065,1080,1085,1090,1095,1100]},
{"p":"libxml2","s":"nurs:cpicnt","t":[0,0.5,1,1.5,2,2.5,3,3.5,4,4.5,5,5.5,6,6.5,7,7.5,8],"y":[170,1110,1120,1125,1130,1135,1140,1145,1150,1160,1170,1200,1220,1270,1290,1310,1340],"lo":[150,1085,1095,1100,1105,1110,1115,1120,1125,1135,1140,1150,1160,1200,1220,1240,1260],"hi":[190,1135,1145,1150,1155,1160,1165,1170,1175,1185,1205,1250,1290,1350,1380,1400,1440]},
{"p":"libxml2","s":"nurs:qc","t":[0,0.5,1,1.5,2,2.5,3,3.5,4,4.5,5,5.5,6,6.5,7,7.5,8],"y":[190,910,920,925,928,930,932,934,936,938,940,942,944,946,948,949,950],"lo":[170,870,880,885,888,890,892,894,896,898,900,902,904,906,908,909,910],"hi":[210,950,960,965,968,970,972,974,976,978,980,982,984,986,988,989,990]},
{"p":"libxml2","s":"cgs","t":[0,0.5,1,1.5,2,2.5,3,3.5,4,4.5,5,5.5,6,6.5,7,7.5,8],"y":[560,2250,2310,2350,2390,2410,2420,2480,2530,2600,2610,2630,2670,2700,2700,2710,2720],"lo":[545,2235,2295,2335,2375,2395,2405,2420,2450,2470,2480,2490,2510,2540,2560,2575,2590],"hi":[575,2265,2325,2365,2405,2425,2435,2560,2660,2760,2780,2800,2820,2830,2835,2840,2850]}
]},
"transform":[{"flatten":["t","y","lo","hi"]}],
"columns":5,
"bounds":"flush",
"spacing":{"row":72,"column":75},
"concat":[
{"title":"grep","width":190,"height":183,"transform":[{"filter":"datum.p=='grep'"}],
 "encoding":{"x":{"field":"t","type":"quantitative","title":"Time(h)","scale":{"domain":[-0.4,8.4],"nice":false},"axis":{"values":[0,1,2,3,4,5,6,7,8],"tickCount":20}},
  "color":{"field":"s","type":"nominal","title":null,"scale":{"domain":["bfs","rss","rps","nurs:rp","nurs:covnew","nurs:md2u","nurs:cpicnt","nurs:qc","cgs"],"range":["#1f77b4","#ff7f0e","#999999","#d62728","#9467bd","#8c564b","#e377c2","#bcbd22","#2ca02c"]},
   "legend":{"encode":{"symbols":{"update":{"fill":{"scale":"color","field":"value"},"stroke":{"scale":"color","field":"value"},"opacity":{"value":0.85}}}}}}},
 "layer":[
  {"mark":{"type":"area","opacity":0.4},"encoding":{"y":{"field":"lo","type":"quantitative","title":"Covered Branches","scale":{"domain":[-53,2205],"nice":false,"zero":false},"axis":{"values":[0,500,1000,1500,2000],"tickCount":20}},"y2":{"field":"hi"}}},
  {"mark":{"type":"line","strokeWidth":1.4,"opacity":0.9},"encoding":{"y":{"field":"y","type":"quantitative","title":"Covered Branches"}}},
  {"mark":{"type":"point","filled":true,"size":20,"opacity":0.9},"encoding":{"y":{"field":"y","type":"quantitative","title":"Covered Branches"}}}]},
{"title":"gawk","width":190,"height":183,"transform":[{"filter":"datum.p=='gawk'"}],
 "encoding":{"x":{"field":"t","type":"quantitative","title":"Time(h)","scale":{"domain":[-0.4,8.4],"nice":false},"axis":{"values":[0,1,2,3,4,5,6,7,8],"tickCount":20}},
  "color":{"field":"s","type":"nominal","title":null}},
 "layer":[
  {"mark":{"type":"area","opacity":0.4},"encoding":{"y":{"field":"lo","type":"quantitative","title":"Covered Branches","scale":{"domain":[115,2604],"nice":false,"zero":false},"axis":{"values":[500,1000,1500,2000,2500],"tickCount":20}},"y2":{"field":"hi"}}},
  {"mark":{"type":"line","strokeWidth":1.4,"opacity":0.9},"encoding":{"y":{"field":"y","type":"quantitative","title":"Covered Branches"}}},
  {"mark":{"type":"point","filled":true,"size":20,"opacity":0.9},"encoding":{"y":{"field":"y","type":"quantitative","title":"Covered Branches"}}}]},
{"title":{"text":"readelf","offset":1},"width":190,"height":183,"transform":[{"filter":"datum.p=='readelf'"}],
 "encoding":{"x":{"field":"t","type":"quantitative","title":"Time(h)","scale":{"domain":[-0.4,8.4],"nice":false},"axis":{"values":[0,1,2,3,4,5,6,7,8],"tickCount":20}},
  "color":{"field":"s","type":"nominal","title":null}},
 "layer":[
  {"mark":{"type":"area","opacity":0.4},"encoding":{"y":{"field":"lo","type":"quantitative","title":"Covered Branches","scale":{"domain":[209,1411],"nice":false,"zero":false},"axis":{"values":[400,600,800,1000,1200,1400],"tickCount":20}},"y2":{"field":"hi"}}},
  {"mark":{"type":"line","strokeWidth":1.4,"opacity":0.9},"encoding":{"y":{"field":"y","type":"quantitative","title":"Covered Branches"}}},
  {"mark":{"type":"point","filled":true,"size":20,"opacity":0.9},"encoding":{"y":{"field":"y","type":"quantitative","title":"Covered Branches"}}}]},
{"title":"sqlite3","width":190,"height":183,"transform":[{"filter":"datum.p=='sqlite3'"}],
 "encoding":{"x":{"field":"t","type":"quantitative","title":"Time(h)","scale":{"domain":[-0.4,8.4],"nice":false},"axis":{"values":[0,1,2,3,4,5,6,7,8],"tickCount":20}},
  "color":{"field":"s","type":"nominal","title":null}},
 "layer":[
  {"mark":{"type":"area","opacity":0.4},"encoding":{"y":{"field":"lo","type":"quantitative","title":"Covered Branches","scale":{"domain":[-93,3836],"nice":false,"zero":false},"axis":{"values":[0,1000,2000,3000],"tickCount":20}},"y2":{"field":"hi"}}},
  {"mark":{"type":"line","strokeWidth":1.4,"opacity":0.9},"encoding":{"y":{"field":"y","type":"quantitative","title":"Covered Branches"}}},
  {"mark":{"type":"point","filled":true,"size":20,"opacity":0.9},"encoding":{"y":{"field":"y","type":"quantitative","title":"Covered Branches"}}}]},
{"title":"sed","width":190,"height":183,"transform":[{"filter":"datum.p=='sed'"}],
 "encoding":{"x":{"field":"t","type":"quantitative","title":"Time(h)","scale":{"domain":[-0.4,8.4],"nice":false},"axis":{"values":[0,1,2,3,4,5,6,7,8],"tickCount":20}},
  "color":{"field":"s","type":"nominal","title":null}},
 "layer":[
  {"mark":{"type":"area","opacity":0.4},"encoding":{"y":{"field":"lo","type":"quantitative","title":"Covered Branches","scale":{"domain":[9,2486],"nice":false,"zero":false},"axis":{"values":[500,1000,1500,2000],"tickCount":20}},"y2":{"field":"hi"}}},
  {"mark":{"type":"line","strokeWidth":1.4,"opacity":0.9},"encoding":{"y":{"field":"y","type":"quantitative","title":"Covered Branches"}}},
  {"mark":{"type":"point","filled":true,"size":20,"opacity":0.9},"encoding":{"y":{"field":"y","type":"quantitative","title":"Covered Branches"}}}]},
{"title":"make","width":190,"height":183,"transform":[{"filter":"datum.p=='make'"}],
 "encoding":{"x":{"field":"t","type":"quantitative","title":"Time(h)","scale":{"domain":[-0.4,8.4],"nice":false},"axis":{"values":[0,1,2,3,4,5,6,7,8],"tickCount":20}},
  "color":{"field":"s","type":"nominal","title":null}},
 "layer":[
  {"mark":{"type":"area","opacity":0.4},"encoding":{"y":{"field":"lo","type":"quantitative","title":"Covered Branches","scale":{"domain":[156,2260],"nice":false,"zero":false},"axis":{"values":[500,1000,1500,2000],"tickCount":20}},"y2":{"field":"hi"}}},
  {"mark":{"type":"line","strokeWidth":1.4,"opacity":0.9},"encoding":{"y":{"field":"y","type":"quantitative","title":"Covered Branches"}}},
  {"mark":{"type":"point","filled":true,"size":20,"opacity":0.9},"encoding":{"y":{"field":"y","type":"quantitative","title":"Covered Branches"}}}]},
{"title":"expat","width":190,"height":183,"transform":[{"filter":"datum.p=='expat'"}],
 "encoding":{"x":{"field":"t","type":"quantitative","title":"Time(h)","scale":{"domain":[-0.4,8.4],"nice":false},"axis":{"values":[0,1,2,3,4,5,6,7,8],"tickCount":20}},
  "color":{"field":"s","type":"nominal","title":null}},
 "layer":[
  {"mark":{"type":"area","opacity":0.4},"encoding":{"y":{"field":"lo","type":"quantitative","title":"Covered Branches","scale":{"domain":[141,1844],"nice":false,"zero":false},"axis":{"values":[500,1000,1500],"tickCount":20}},"y2":{"field":"hi"}}},
  {"mark":{"type":"line","strokeWidth":1.4,"opacity":0.9},"encoding":{"y":{"field":"y","type":"quantitative","title":"Covered Branches"}}},
  {"mark":{"type":"point","filled":true,"size":20,"opacity":0.9},"encoding":{"y":{"field":"y","type":"quantitative","title":"Covered Branches"}}}]},
{"title":"nasm","width":190,"height":183,"transform":[{"filter":"datum.p=='nasm'"}],
 "encoding":{"x":{"field":"t","type":"quantitative","title":"Time(h)","scale":{"domain":[-0.4,8.4],"nice":false},"axis":{"values":[0,1,2,3,4,5,6,7,8],"tickCount":20}},
  "color":{"field":"s","type":"nominal","title":null}},
 "layer":[
  {"mark":{"type":"area","opacity":0.4},"encoding":{"y":{"field":"lo","type":"quantitative","title":"Covered Branches","scale":{"domain":[53,1917],"nice":false,"zero":false},"axis":{"values":[500,1000,1500],"tickCount":20}},"y2":{"field":"hi"}}},
  {"mark":{"type":"line","strokeWidth":1.4,"opacity":0.9},"encoding":{"y":{"field":"y","type":"quantitative","title":"Covered Branches"}}},
  {"mark":{"type":"point","filled":true,"size":20,"opacity":0.9},"encoding":{"y":{"field":"y","type":"quantitative","title":"Covered Branches"}}}]},
{"title":"objcopy","width":190,"height":183,"transform":[{"filter":"datum.p=='objcopy'"}],
 "encoding":{"x":{"field":"t","type":"quantitative","title":"Time(h)","scale":{"domain":[-0.4,8.4],"nice":false},"axis":{"values":[0,1,2,3,4,5,6,7,8],"tickCount":20}},
  "color":{"field":"s","type":"nominal","title":null}},
 "layer":[
  {"mark":{"type":"area","opacity":0.4},"encoding":{"y":{"field":"lo","type":"quantitative","title":"Covered Branches","scale":{"domain":[-38,2964],"nice":false,"zero":false},"axis":{"values":[0,500,1000,1500,2000,2500],"tickCount":20}},"y2":{"field":"hi"}}},
  {"mark":{"type":"line","strokeWidth":1.4,"opacity":0.9},"encoding":{"y":{"field":"y","type":"quantitative","title":"Covered Branches"}}},
  {"mark":{"type":"point","filled":true,"size":20,"opacity":0.9},"encoding":{"y":{"field":"y","type":"quantitative","title":"Covered Branches"}}}]},
{"title":"libxml2","width":190,"height":183,"transform":[{"filter":"datum.p=='libxml2'"}],
 "encoding":{"x":{"field":"t","type":"quantitative","title":"Time(h)","scale":{"domain":[-0.4,8.4],"nice":false},"axis":{"values":[0,1,2,3,4,5,6,7,8],"tickCount":20}},
  "color":{"field":"s","type":"nominal","title":null}},
 "layer":[
  {"mark":{"type":"area","opacity":0.4},"encoding":{"y":{"field":"lo","type":"quantitative","title":"Covered Branches","scale":{"domain":[-11,3003],"nice":false,"zero":false},"axis":{"values":[0,1000,2000],"tickCount":20}},"y2":{"field":"hi"}}},
  {"mark":{"type":"line","strokeWidth":1.4,"opacity":0.9},"encoding":{"y":{"field":"y","type":"quantitative","title":"Covered Branches"}}},
  {"mark":{"type":"point","filled":true,"size":20,"opacity":0.9},"encoding":{"y":{"field":"y","type":"quantitative","title":"Covered Branches"}}}]}
],
"config":{
 "font":"DejaVu Sans",
 "numberFormat":"d",
 "view":{"stroke":"black","strokeWidth":1},
 "title":{"font":"DejaVu Sans","fontSize":14.5,"fontStyle":"italic","fontWeight":"normal","color":"black","offset":6},
 "axis":{"labelFont":"DejaVu Sans","labelFontSize":14.5,"labelColor":"black","titleFont":"DejaVu Sans","titleFontSize":12.5,"titleFontWeight":"normal","titleColor":"black","tickColor":"black","tickSize":4,"domain":false,"gridColor":"#dcdcdc","gridDash":[4,3],"gridWidth":0.8,"labelPadding":3,"labelOverlap":false,"tickCount":20},
 "axisX":{"titlePadding":1,"labelFlush":false,"titleFontSize":12},
 "axisY":{"titlePadding":6,"labelPadding":5},
 "legend":{"orient":"none","legendX":61,"legendY":-67,"direction":"horizontal","symbolType":"M-1,0L5,0M1.5,0A0.5,0.5,0,1,1,2.5,0A0.5,0.5,0,1,1,1.5,0Z","symbolSize":100,"symbolStrokeWidth":1.6,"labelFont":"DejaVu Sans","labelFontSize":14,"labelColor":"black","labelOffset":30,"columnPadding":29,"padding":7,"strokeColor":"#cccccc","cornerRadius":3,"fillColor":"white"}
}
}
